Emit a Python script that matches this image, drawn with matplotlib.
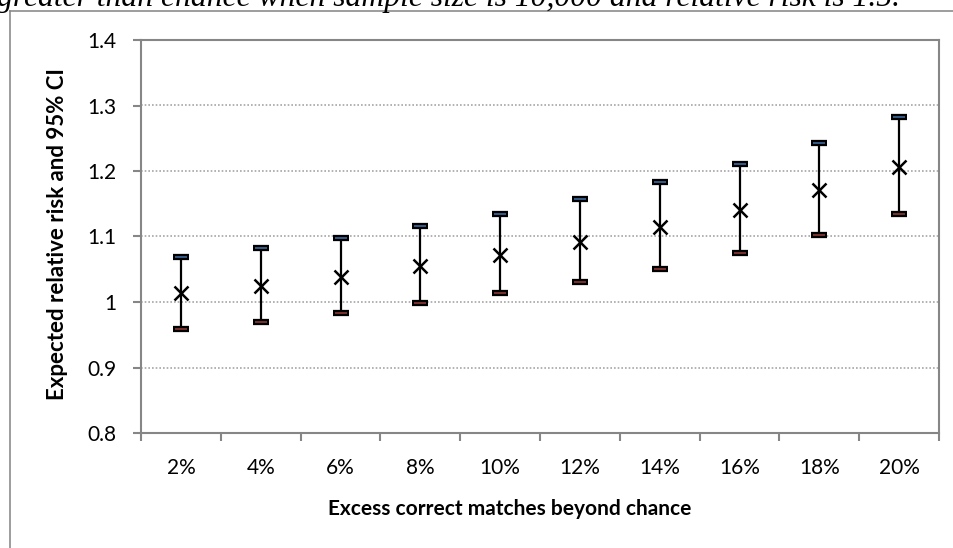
"""
Expected relative risk with 95% CI by excess correct matches
"""

import matplotlib
matplotlib.use("Agg")
import matplotlib.pyplot as plt
from matplotlib.lines import Line2D
import numpy as np

plt.rcParams["font.family"] = ["Lato", "DejaVu Sans"]

# data
categories = ["2%", "4%", "6%", "8%", "10%", "12%", "14%", "16%", "18%", "20%"]
rr_mean = [1.013, 1.024, 1.038, 1.055, 1.072, 1.092, 1.115, 1.140, 1.171, 1.206]
ci_upper = [1.068, 1.083, 1.098, 1.116, 1.135, 1.157, 1.183, 1.211, 1.243, 1.283]
ci_lower = [0.959, 0.970, 0.983, 0.998, 1.013, 1.031, 1.051, 1.075, 1.102, 1.135]

title_text = "greater than chance when sample size is 10,000 and relative risk is 1.5."
x_label = "Excess correct matches beyond chance"
y_label = "Expected relative risk and 95% CI"

fig = plt.figure(figsize=(9.54, 5.48), dpi=100)
W, H = 954, 548

# cropped caption at the top of the page
fig.text(-3 / W, 1 - 6 / H, title_text, fontsize=22.8, style="italic",
         family="Liberation Serif", ha="left", va="baseline")

# outer chart frame (only top and left edges fall inside the crop)
frame_col = "#8c8c8c"
fig.add_artist(Line2D([10 / W, 10 / W], [0, 1 - 11 / H], transform=fig.transFigure,
                      color=frame_col, lw=1.2))
fig.add_artist(Line2D([10 / W, 1], [1 - 11 / H, 1 - 11 / H], transform=fig.transFigure,
                      color=frame_col, lw=1.2))

left, right, top, bottom = 141, 939, 40, 433
ax = fig.add_axes([left / W, 1 - bottom / H, (right - left) / W, (bottom - top) / H])

x = np.arange(len(categories))
axis_col = "#868686"

# high-low lines and caps
ax.vlines(x, ci_lower, ci_upper, color="black", lw=1.6, zorder=3)
ax.plot(x, ci_upper, ls="none", marker="_", ms=11, mew=4.5, color="black", zorder=4)
ax.plot(x, ci_upper, ls="none", marker="_", ms=8.5, mew=1.2, color="#3e6a9e", zorder=5)
ax.plot(x, ci_lower, ls="none", marker="_", ms=11, mew=4.5, color="black", zorder=4)
ax.plot(x, ci_lower, ls="none", marker="_", ms=8.5, mew=1.2, color="#8e3a36", zorder=5)
ax.plot(x, rr_mean, ls="none", marker="x", ms=10, mew=1.8, color="black", zorder=6)

ax.set_xlim(-0.5, len(categories) - 0.5)
ax.set_ylim(0.8, 1.4)
ax.set_yticks(np.arange(0.8, 1.41, 0.1))
ax.set_yticklabels(["0.8", "0.9", "1", "1.1", "1.2", "1.3", "1.4"])
ax.set_xticks(x)
ax.set_xticklabels(categories)
ax.set_xticks(np.arange(-0.5, len(categories), 1.0), minor=True)

ax.tick_params(axis="x", which="major", length=0, pad=18, labelsize=15)
ax.tick_params(axis="x", which="minor", length=5.5, width=1.5, color=axis_col, direction="out")
ax.tick_params(axis="y", length=5.8, width=1.5, color=axis_col, pad=12, labelsize=15)

for s in ax.spines.values():
    s.set_color(axis_col)
    s.set_linewidth(1.5)

for v in [0.9, 1.0, 1.1, 1.2, 1.3]:
    ax.axhline(v, color="#a6a6a6", lw=1.2, ls=(0, (1, 1.2)), zorder=1)

ax.set_xlabel(x_label, fontsize=15, fontweight="bold", va="center")
ax.xaxis.set_label_coords((510 - left) / (right - left), (bottom - 509) / (bottom - top))
ax.set_ylabel(y_label, fontsize=16, fontweight="bold", va="center")
ax.yaxis.set_label_coords((58 - left) / (right - left), (bottom - 234) / (bottom - top))

fig.savefig("out.png", dpi=100)
